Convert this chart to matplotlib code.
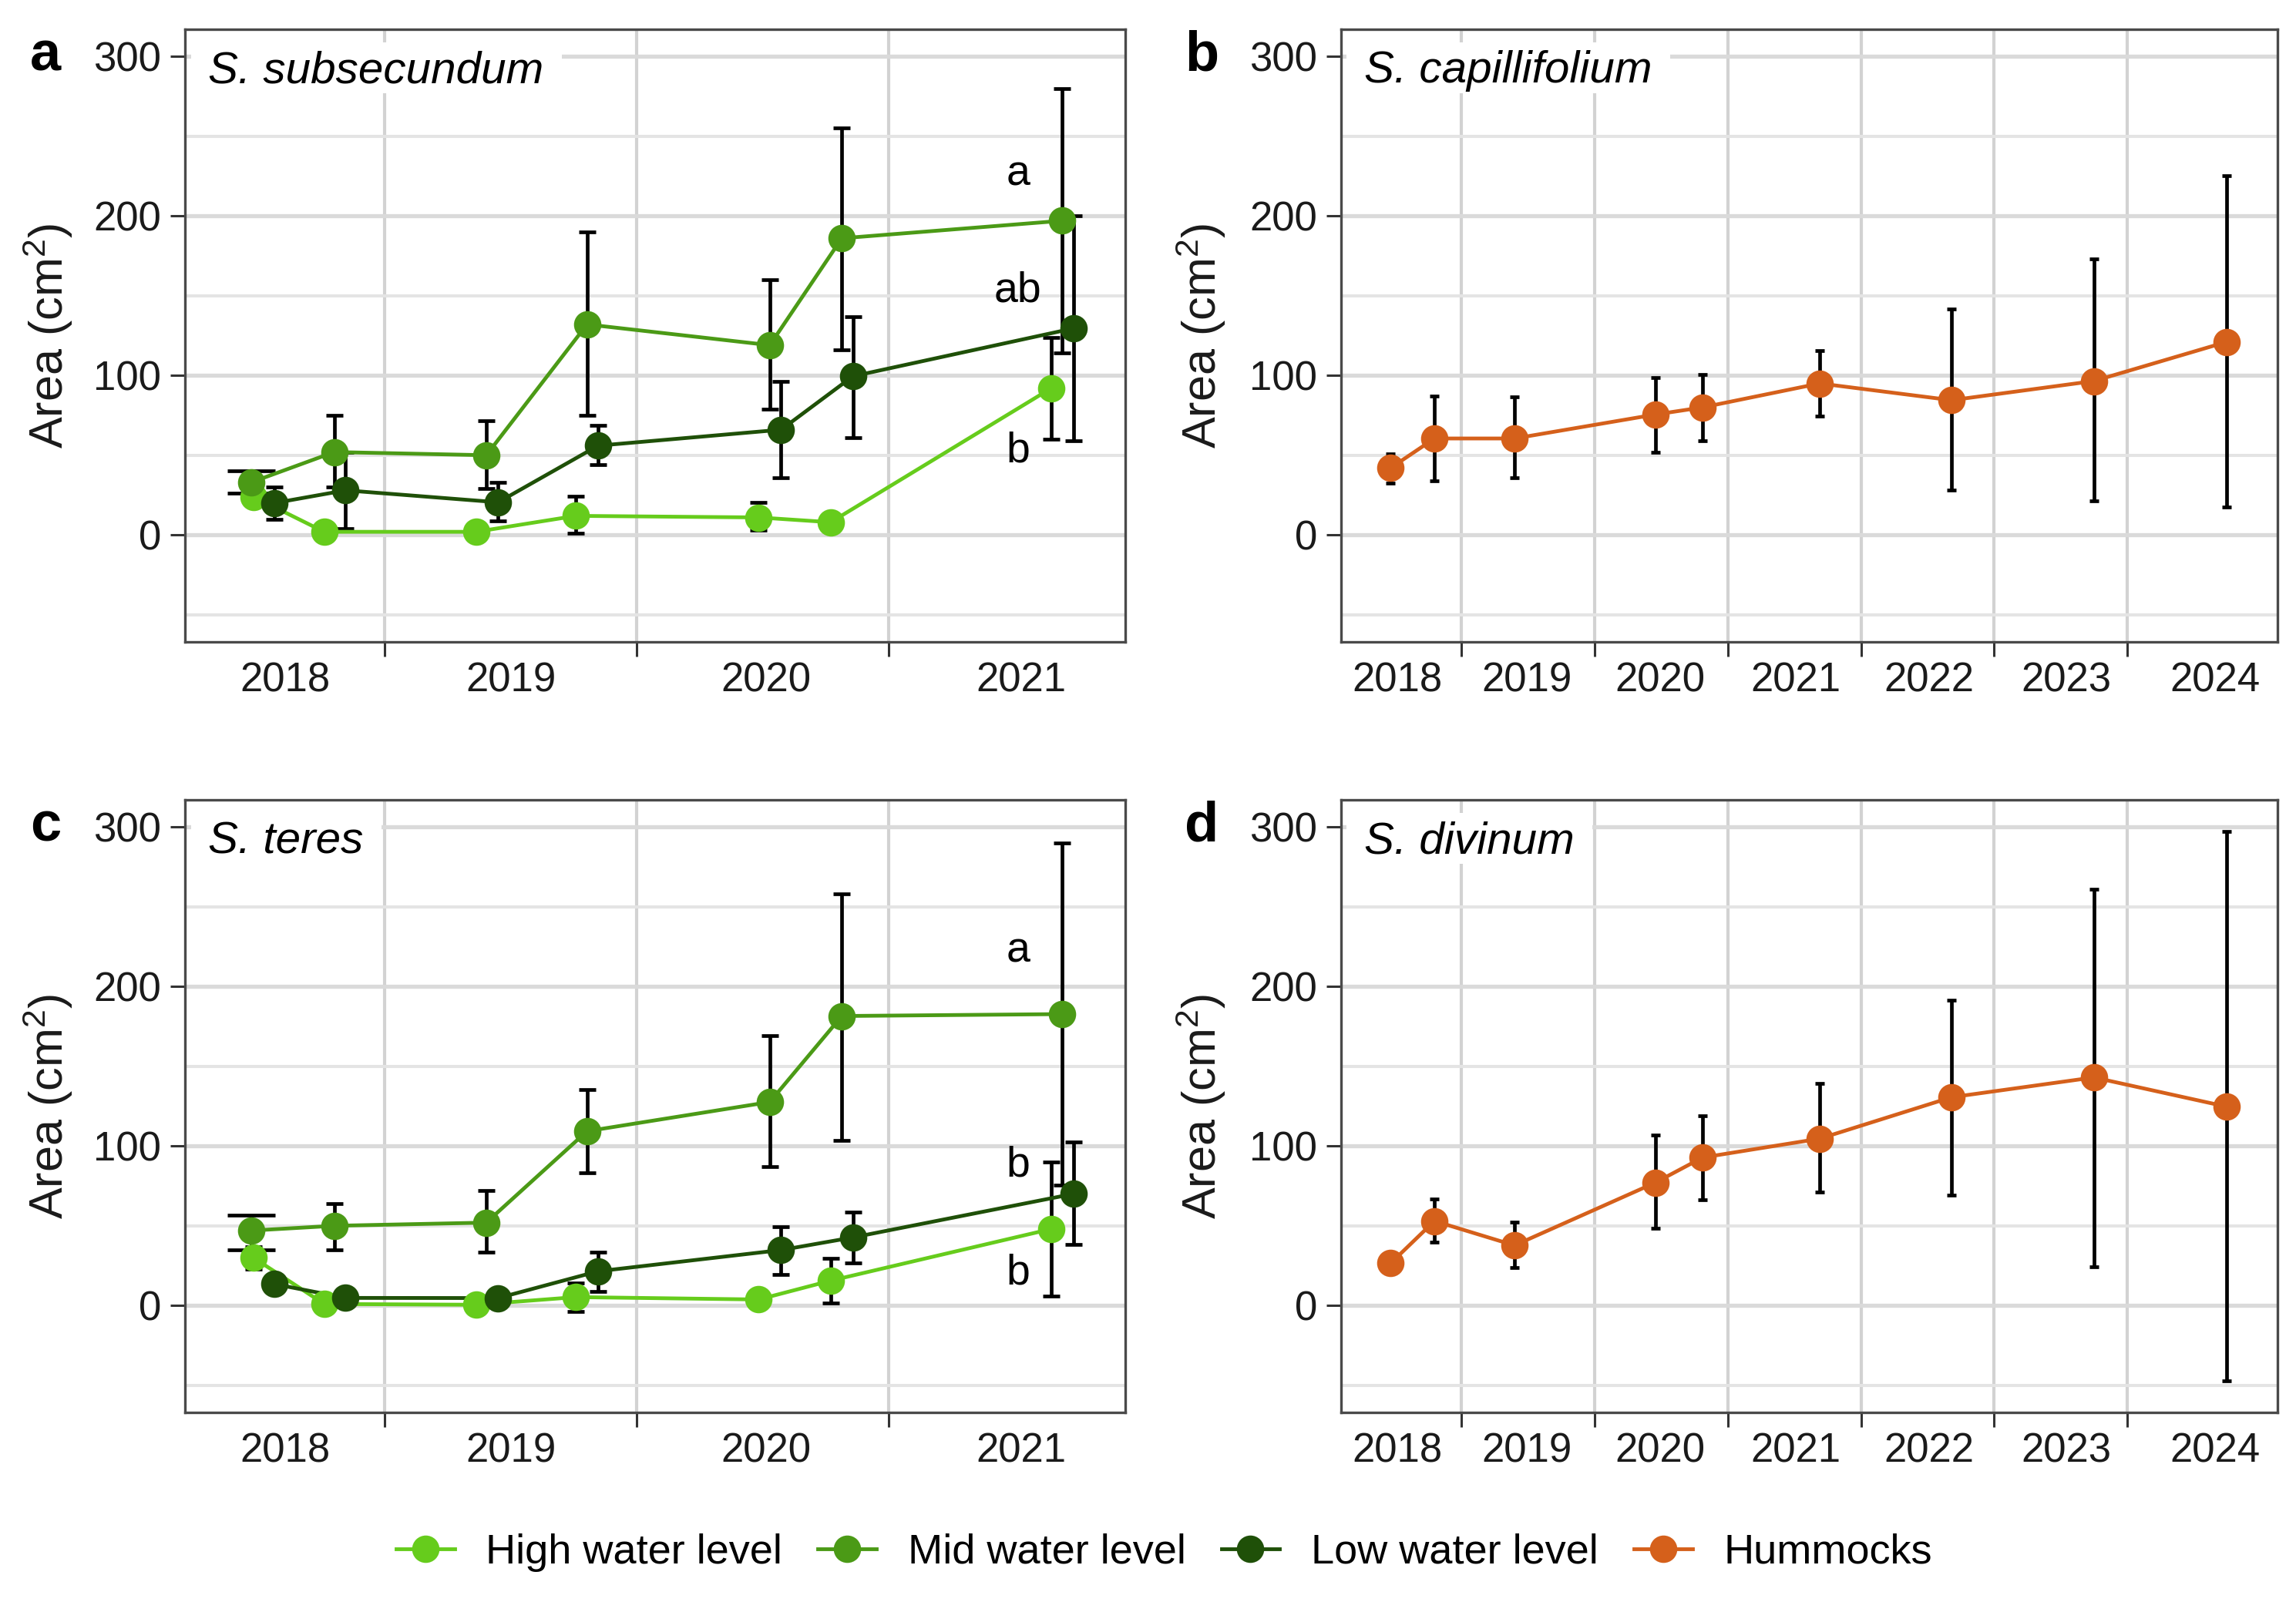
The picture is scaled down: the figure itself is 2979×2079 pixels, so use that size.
"""
Sphagnum area over time: four panels (water levels vs hummocks).
"""

import numpy as np
import matplotlib
matplotlib.use("Agg")
import matplotlib.pyplot as plt
from matplotlib.lines import Line2D
from matplotlib.patches import Rectangle
from matplotlib.ticker import FixedLocator, FixedFormatter, NullFormatter

plt.rcParams["font.family"] = ["Liberation Sans", "DejaVu Sans"]
plt.rcParams["mathtext.fontset"] = "custom"
plt.rcParams["mathtext.rm"] = "Liberation Sans"
plt.rcParams["mathtext.it"] = "Liberation Sans:italic"

# ---- data -------------------------------------------------------------
# sampling dates (decimal years), water level panels a and c
HIGH_X = [2018.478, 2018.759, 2019.362, 2019.759, 2020.485, 2020.771, 2021.647]
MID_X = [2018.469, 2018.799, 2019.403, 2019.803, 2020.529, 2020.815, 2021.691]
LOW_X = [2018.560, 2018.844, 2019.450, 2019.847, 2020.574, 2020.859, 2021.735]

# a: S. subsecundum  (mean, lower, upper)
A_HIGH_Y = [24, 2, 2, 12, 11, 8, 92]
A_HIGH_LO = [19, 1, 1, 1, 3, 5, 60]
A_HIGH_HI = [29, 3, 3, 24.5, 20.5, 11, 124]
A_MID_Y = [33, 52, 50, 132, 119, 186, 197]
A_MID_LO = [26, 30, 29, 75, 79, 116, 114]
A_MID_HI = [40, 75, 71.5, 190, 160, 255, 280]
A_LOW_Y = [20, 28, 20.5, 56, 66, 99.5, 129.5]
A_LOW_LO = [10, 4, 9, 44, 36, 61, 59]
A_LOW_HI = [30, 52, 33, 68.5, 96.5, 137, 200]
A_LETTERS = ["a", "ab", "b"]
A_LETTER_Y = [226, 153, 52.5]

# c: S. teres
C_HIGH_Y = [30, 1, 0.5, 5.3, 3.8, 15.6, 48]
C_HIGH_LO = [23, 0, 0, -3.5, 0, 1.5, 6]
C_HIGH_HI = [37, 2, 1, 14, 7.6, 29.5, 90]
C_MID_Y = [47, 50, 52, 109.3, 127.6, 181.5, 182.7]
C_MID_LO = [35, 35, 33.3, 83.4, 87, 103.4, 75.4]
C_MID_HI = [56.5, 63.7, 72.2, 135.6, 169, 258, 290]
C_LOW_Y = [13.5, 4.8, 4.7, 21.5, 34.8, 42.7, 70]
C_LOW_LO = [9, 2, 2, 8.8, 19.5, 26.5, 38.3]
C_LOW_HI = [18, 7.6, 7.4, 33.3, 49.5, 58.4, 102.6]
C_LETTERS = ["a", "b", "b"]
C_LETTER_Y = [222, 88, 20]
LETTER_X = 2021.515

# hummock panels b and d
HUM_X = [2018.469, 2018.798, 2019.399, 2020.455, 2020.811, 2021.690,
         2022.680, 2023.748, 2024.744]
B_Y = [42, 60.5, 60.5, 75.5, 80, 95, 84.5, 96.5, 121]
B_LO = [32.7, 34, 35.7, 51.6, 59, 74.3, 28, 21.5, 17.7]
B_HI = [51, 87, 86.4, 98.7, 100.8, 115.8, 141.5, 173.3, 225]
D_Y = [26.5, 53, 37.7, 77, 92.8, 104.6, 130.6, 143, 124.7]
D_LO = [24, 39.8, 24, 48.6, 66.3, 71.3, 69.3, 24.5, -47]
D_HI = [29, 67, 52.5, 106.7, 118.8, 139.4, 191.6, 260.8, 297]

# axis labels
WL_YEARS = ["2018", "2019", "2020", "2021"]
WL_YEAR_POS = [2018.603, 2019.50, 2020.515, 2021.529]
WL_BOUNDS = [2019, 2020, 2021]
HUM_YEARS = ["2018", "2019", "2020", "2021", "2022", "2023", "2024"]
HUM_YEAR_POS = [2018.52, 2019.49, 2020.49, 2021.51, 2022.51, 2023.54, 2024.66]
HUM_BOUNDS = [2019, 2020, 2021, 2022, 2023, 2024]

COLORS = {
    "High water level": "#66CC1C",
    "Mid water level": "#4B9A16",
    "Low water level": "#1F5008",
    "Hummocks": "#D5601B",
}

# ---- figure -----------------------------------------------------------
W, H, DPI = 2979, 2079, 200
fig = plt.figure(figsize=(W / DPI, H / DPI), dpi=DPI)


def _rect(left, top, width, height):
    return [left / W, 1 - (top + height) / H, width / W, height / H]


ax_a = fig.add_axes(_rect(240, 38, 1220, 795))
ax_b = fig.add_axes(_rect(1740, 38, 1215, 795))
ax_c = fig.add_axes(_rect(240, 1038, 1220, 795))
ax_d = fig.add_axes(_rect(1740, 1038, 1215, 795))


def _series(ax, x, y, lo, hi, color, capsize, first_cap=None):
    x = np.asarray(x, float)
    y = np.asarray(y, float)
    lo = np.asarray(lo, float)
    hi = np.asarray(hi, float)
    for i in range(len(x)):
        cs = first_cap if (i == 0 and first_cap is not None) else capsize
        ax.errorbar([x[i]], [y[i]], yerr=[[y[i] - lo[i]], [hi[i] - y[i]]],
                    fmt="none", ecolor="black", elinewidth=1.7,
                    capsize=cs, capthick=1.7, zorder=3)
    ax.plot(x, y, color=color, linewidth=1.75, zorder=4)
    ax.plot(x, y, "o", color=color, markersize=11.8, zorder=5)


def _style(ax, xlim, bounds, label_pos, labels, species, letter, label_x):
    ax.set_xlim(*xlim)
    ax.set_ylim(-67, 317)
    ax.set_axisbelow(True)

    ax.yaxis.set_major_locator(FixedLocator([0, 100, 200, 300]))
    ax.yaxis.set_minor_locator(FixedLocator([-50, 50, 150, 250]))
    ax.xaxis.set_major_locator(FixedLocator(bounds))
    ax.xaxis.set_major_formatter(NullFormatter())
    ax.xaxis.set_minor_locator(FixedLocator(label_pos))
    ax.xaxis.set_minor_formatter(FixedFormatter(labels))

    ax.grid(which="major", axis="y", color="#DADADA", linewidth=1.9)
    ax.grid(which="minor", axis="y", color="#E4E4E4", linewidth=1.45)
    ax.grid(which="major", axis="x", color="#D2D2D2", linewidth=1.5)

    ax.tick_params(which="major", length=6.8, width=1.1, color="#333333",
                   labelsize=19, labelcolor="#1a1a1a", pad=4.3)
    ax.tick_params(axis="y", which="minor", length=0)
    ax.tick_params(axis="x", which="minor", length=0, labelsize=19,
                   labelcolor="#1a1a1a", pad=9)

    for sp in ax.spines.values():
        sp.set_color("#4a4a4a")
        sp.set_linewidth(1.2)

    ax.set_ylabel("Area (cm$^2$)", fontsize=22, color="#1a1a1a")
    ax.yaxis.set_label_coords(label_x, 0.5)

    t = ax.text(0.025, 0.913, species, transform=ax.transAxes, fontsize=21,
                style="italic", ha="left", va="baseline", zorder=2)
    pos = ax.get_position()
    fig.text(pos.x0 - 181 / W, pos.y1 - 34 / H, letter, fontsize=26,
             fontweight="bold", ha="center", va="center")
    return t


_series(ax_a, HIGH_X, A_HIGH_Y, A_HIGH_LO, A_HIGH_HI, COLORS["High water level"], 4)
_series(ax_a, MID_X, A_MID_Y, A_MID_LO, A_MID_HI, COLORS["Mid water level"], 4, first_cap=11)
_series(ax_a, LOW_X, A_LOW_Y, A_LOW_LO, A_LOW_HI, COLORS["Low water level"], 4)
_series(ax_c, HIGH_X, C_HIGH_Y, C_HIGH_LO, C_HIGH_HI, COLORS["High water level"], 4)
_series(ax_c, MID_X, C_MID_Y, C_MID_LO, C_MID_HI, COLORS["Mid water level"], 4, first_cap=11)
_series(ax_c, LOW_X, C_LOW_Y, C_LOW_LO, C_LOW_HI, COLORS["Low water level"], 4)
_series(ax_b, HUM_X, B_Y, B_LO, B_HI, COLORS["Hummocks"], 2)
_series(ax_d, HUM_X, D_Y, D_LO, D_HI, COLORS["Hummocks"], 2)

for lab, yy in zip(A_LETTERS, A_LETTER_Y):
    ax_a.text(LETTER_X, yy, lab, fontsize=20, ha="center", va="center", zorder=6)
for lab, yy in zip(C_LETTERS, C_LETTER_Y):
    ax_c.text(LETTER_X, yy, lab, fontsize=20, ha="center", va="center", zorder=6)

species_texts = [
    (ax_a, _style(ax_a, (2018.206, 2021.941), WL_BOUNDS, WL_YEAR_POS, WL_YEARS,
                  "S. subsecundum", "a", -0.117)),
    (ax_b, _style(ax_b, (2018.097, 2025.127), HUM_BOUNDS, HUM_YEAR_POS, HUM_YEARS,
                  "S. capillifolium", "b", -0.121)),
    (ax_c, _style(ax_c, (2018.206, 2021.941), WL_BOUNDS, WL_YEAR_POS, WL_YEARS,
                  "S. teres", "c", -0.117)),
    (ax_d, _style(ax_d, (2018.097, 2025.127), HUM_BOUNDS, HUM_YEAR_POS, HUM_YEARS,
                  "S. divinum", "d", -0.121)),
]

# white label boxes behind species names (hide the gridlines)
fig.canvas.draw()
renderer = fig.canvas.get_renderer()
for ax, t in species_texts:
    bb = t.get_window_extent(renderer)
    inv = ax.transAxes.inverted()
    (x0, _), (x1, _) = inv.transform([(bb.x0 - 23, 0), (bb.x1 + 23, 0)])
    ax.add_patch(Rectangle((x0, 0.8956), x1 - x0, 0.083, transform=ax.transAxes,
                           facecolor="white", edgecolor="none", zorder=1.5))

handles = [Line2D([], [], color=c, marker="o", markersize=11.8, linewidth=1.75)
           for c in COLORS.values()]
fig.legend(handles, list(COLORS.keys()), loc="center", ncol=4,
           bbox_to_anchor=(0.507, 0.0308), frameon=False, fontsize=19.5,
           handlelength=1.4, handletextpad=0.75, columnspacing=0.85)

fig.savefig("out.png", dpi=DPI)
plt.close(fig)
